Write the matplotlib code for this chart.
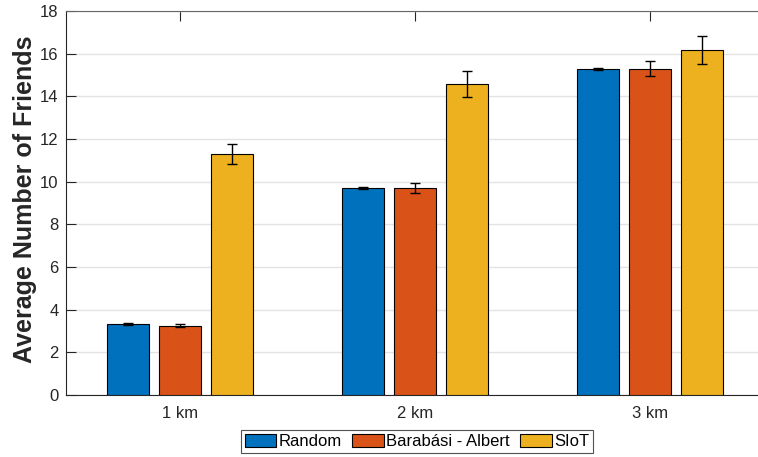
import numpy as np
import matplotlib.pyplot as plt

plt.rcParams['font.family'] = ['Liberation Sans', 'DejaVu Sans']

# distances and series
categories = ['1 km', '2 km', '3 km']
series_names = ['Random', 'Barabási - Albert', 'SIoT']
random_vals = [3.33, 9.72, 15.27]
ba_vals = [3.25, 9.72, 15.30]
siot_vals = [11.30, 14.58, 16.17]
random_err = [0.03, 0.05, 0.04]
ba_err = [0.07, 0.23, 0.35]
siot_err = [0.46, 0.60, 0.65]

colors = ['#0072BD', '#D95319', '#EDB120']

fig = plt.figure(figsize=(7.58, 4.57), dpi=100)
ax = fig.add_axes([65.5 / 758, 62 / 457, 1 - 65.5 / 758, 384 / 457])

x = np.arange(1, len(categories) + 1)
width = 0.178
offset = 0.221

vals = [random_vals, ba_vals, siot_vals]
errs = [random_err, ba_err, siot_err]
for i in range(3):
    pos = x + (i - 1) * offset
    ax.bar(pos, vals[i], width, color=colors[i], edgecolor='black',
           linewidth=0.8, label=series_names[i], zorder=3)
    ax.errorbar(pos, vals[i], yerr=errs[i], fmt='none', ecolor='black',
                elinewidth=1, capsize=3.5, capthick=1, zorder=4)

ax.set_xlim(1 - 114.5 / 235, 3 + 107.7 / 235)
ax.set_ylim(0, 18)
ax.set_yticks(np.arange(0, 19, 2))
ax.set_xticks(x, categories)
ax.yaxis.grid(True, color='#e3e3e3', linewidth=1, zorder=0)
ax.set_axisbelow(True)

ax.tick_params(axis='both', direction='in', length=7, width=0.8,
               colors='#262626', labelsize=12, labelcolor='#262626')
ax.tick_params(axis='x', top=True, pad=8)
ax.tick_params(axis='y', right=False, pad=5)
for s in ['left', 'bottom', 'top']:
    ax.spines[s].set_color('#262626')
    ax.spines[s].set_linewidth(0.8)
ax.spines['top'].set_color('#666666')
ax.spines['right'].set_visible(False)

ax.set_ylabel('Average Number of Friends', fontsize=18, fontweight='bold',
              color='#262626')
ax.yaxis.set_label_coords(-28 / 692.5, 0.5 + 4 / 384)

leg = ax.legend(loc='center', bbox_to_anchor=(417 / 758, (457 - 441.5) / 457),
                bbox_transform=fig.transFigure, ncol=3, fontsize=12,
                frameon=True, fancybox=False, handlelength=1.9,
                handleheight=0.85, handletextpad=0.15, columnspacing=0.6,
                borderpad=0.25, borderaxespad=0)
leg.get_frame().set_edgecolor('#262626')
leg.get_frame().set_linewidth(0.8)

fig.savefig('out.png', dpi=100)
